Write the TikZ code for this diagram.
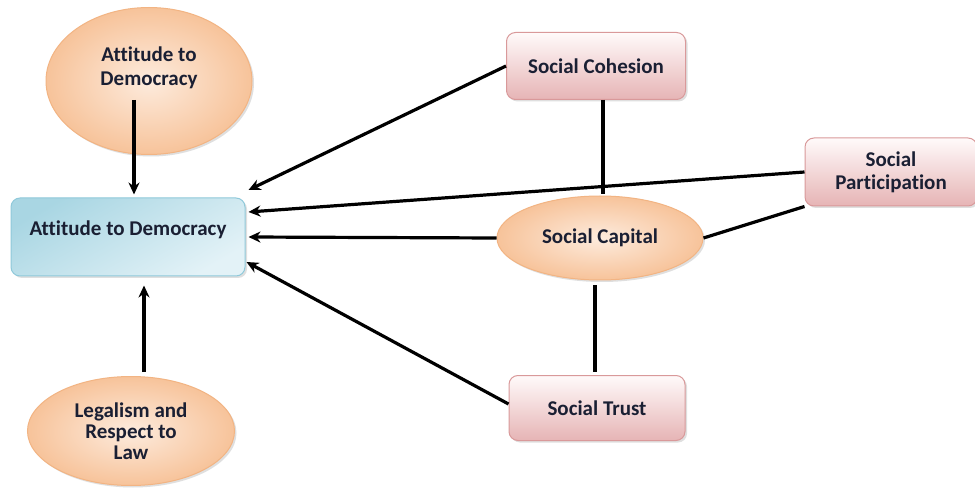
\documentclass[tikz,border=0pt]{standalone}
\usepackage{fontspec}
\setmainfont[Ligatures={NoCommon,NoRequired,NoContextual}]{Carlito}
\usetikzlibrary{shapes.geometric,arrows.meta,shadows}
\definecolor{txt}{HTML}{1A1F33}
\definecolor{orIn}{HTML}{FDEBDD}
\definecolor{orOut}{HTML}{F7C39A}
\definecolor{orLine}{HTML}{F2B483}
\definecolor{blDark}{HTML}{A9D6E3}
\definecolor{blLight}{HTML}{E3F2F7}
\definecolor{blLine}{HTML}{8FC9DA}
\definecolor{pkTop}{HTML}{FFFAFA}
\definecolor{pkBot}{HTML}{E6B4B5}
\definecolor{pkLine}{HTML}{D9999A}
\tikzset{
  x=1pt, y=-1pt,
  lbl/.style={font=\fontsize{21}{21}\selectfont\bfseries, text=txt, align=center},
  oval/.style={lbl, ellipse, draw=orLine, line width=1pt, inner color=orIn, outer color=orOut,
     drop shadow={opacity=0.25, shadow xshift=2pt, shadow yshift=-2pt}, inner sep=0pt},
  bluebox/.style={lbl, rectangle, rounded corners=9pt, draw=blLine, line width=1pt,
     left color=blDark, right color=blLight, shading angle=30,
     drop shadow={opacity=0.25, shadow xshift=2pt, shadow yshift=-2pt}},
  pinkbox/.style={lbl, rectangle, rounded corners=9pt, draw=pkLine, line width=1pt,
     top color=pkTop, bottom color=pkBot,
     drop shadow={opacity=0.25, shadow xshift=2pt, shadow yshift=-2pt}},
  conn/.style={line width=3.2pt, draw=black},
  arr/.style={conn, -{Stealth[length=12pt,width=11pt]}}
}
\begin{document}
\begin{tikzpicture}
\useasboundingbox[fill=white] (0,0) rectangle (975,489);
% nodes
\node[oval, minimum width=206pt, minimum height=147pt] (att) at (149,81) {Attitude to\\[3pt]Democracy\\[8pt]\mbox{}};
\node[bluebox, minimum width=234pt, minimum height=78pt] (box) at (128,237) {Attitude to Democracy\\[-4pt]\mbox{}};
\node[oval, minimum width=207pt, minimum height=109pt] (law) at (131,431) {\mbox{}\\[-6pt]Legalism and\\Respect to\\Law};
\node[pinkbox, minimum width=179pt, minimum height=67pt] (coh) at (596,66) {Social Cohesion};
\node[pinkbox, minimum width=172pt, minimum height=68pt] (part) at (891,172) {Social\\[2pt]Participation};
\node[oval, minimum width=206pt, minimum height=84pt] (cap) at (600,238) {Social Capital};
\node[pinkbox, minimum width=176pt, minimum height=65pt] (trust) at (597,408) {Social Trust};
% connectors
\draw[arr] ([xshift=-15pt,yshift=-19pt]att.center) -- ([xshift=6pt,yshift=3pt]box.north);
\draw[arr] ([xshift=13pt,yshift=4pt]law.north) -- ([xshift=16pt,yshift=-9pt]box.south);
\draw[arr] (coh.west) -- ([xshift=3pt,yshift=47pt]box.east);
\draw[arr] (part.west) -- ([xshift=3pt,yshift=25pt]box.east);
\draw[arr] (cap.west) -- ([xshift=3pt]box.east);
\draw[arr] ([yshift=4pt]trust.west) -- ([xshift=1pt,yshift=-25pt]box.east);
\draw[conn] ([xshift=7pt]coh.south) -- ([xshift=3pt,yshift=1pt]cap.north);
\draw[conn] (part.south west) -- (cap.east);
\draw[conn] ([xshift=-5pt,yshift=-5pt]cap.south) -- ([xshift=-2pt,yshift=3pt]trust.north);
\end{tikzpicture}
\end{document}
